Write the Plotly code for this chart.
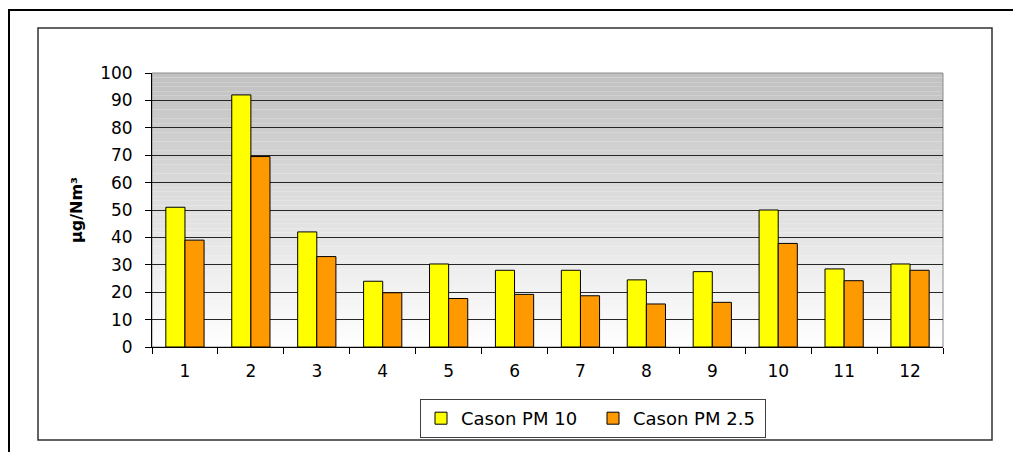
import plotly.graph_objects as go

# Monthly particulate concentrations (µg/Nm³)
months = ["1", "2", "3", "4", "5", "6", "7", "8", "9", "10", "11", "12"]
pm10 = [51, 92, 42, 24, 30.3, 28, 28, 24.5, 27.5, 50, 28.5, 30.3]
pm25 = [39, 69.5, 33, 19.8, 17.7, 19.2, 18.7, 15.7, 16.3, 37.8, 24.2, 28]
series_names = ["Cason PM 10", "Cason PM 2.5"]
y_ticks = [0, 10, 20, 30, 40, 50, 60, 70, 80, 90, 100]

W, H = 1013, 452
L, R, T, B = 152, 943, 73, 347  # plot area in pixels
FONT = "DejaVu Sans"


def px_x(p):
    return (p - L) / (R - L)


def px_y(p):
    return (B - p) / (B - T)


fig = go.Figure()
fig.add_trace(go.Bar(
    x=months, y=pm10, name=series_names[0],
    marker=dict(color="#FFFF00", line=dict(color="#000000", width=1)),
))
fig.add_trace(go.Bar(
    x=months, y=pm25, name=series_names[1],
    marker=dict(color="#FF9900", line=dict(color="#000000", width=1)),
))

shapes = []
# vertical grey-to-white gradient behind the plot area
n = 60
for i in range(n):
    t = (i + 0.5) / n
    c = int(round(255 - 63 * t))
    shapes.append(dict(
        type="rect", xref="paper", yref="paper", layer="below",
        x0=0, x1=1, y0=i / n, y1=(i + 1) / n,
        fillcolor=f"rgb({c},{c},{c})", line=dict(width=0),
    ))
# plot area frame
shapes.append(dict(type="rect", xref="paper", yref="paper", layer="below",
                   x0=0, x1=1, y0=0, y1=1,
                   line=dict(color="#8c8c8c", width=1)))
# chart frame
shapes.append(dict(type="rect", xref="paper", yref="paper", layer="above",
                   x0=px_x(38), x1=px_x(992), y0=px_y(440), y1=px_y(28),
                   line=dict(color="#303030", width=1.5)))
# outer border
shapes.append(dict(type="rect", xref="paper", yref="paper", layer="above",
                   x0=px_x(9), x1=px_x(1020), y0=px_y(470), y1=px_y(10),
                   line=dict(color="#000000", width=2)))

fig.update_layout(
    width=W, height=H,
    margin=dict(l=L, r=W - R, t=T, b=H - B),
    paper_bgcolor="#FFFFFF",
    plot_bgcolor="rgba(0,0,0,0)",
    barmode="group",
    bargap=0.42,
    bargroupgap=0,
    font=dict(family=FONT, size=17, color="#000000"),
    shapes=shapes,
    showlegend=True,
    legend=dict(
        orientation="h",
        x=px_x(420), xanchor="left",
        y=px_y(399), yanchor="top",
        bordercolor="#404040", borderwidth=1,
        bgcolor="#FFFFFF",
        font=dict(family=FONT, size=18, color="#000000"),
        itemwidth=30,
        entrywidth=127,
    ),
    xaxis=dict(
        type="category",
        showgrid=False,
        showline=True, linecolor="#000000", linewidth=1,
        ticks="outside", ticklen=6, tickcolor="#000000",
        tickson="boundaries",
        ticklabelstandoff=9,
        tickfont=dict(family=FONT, size=17),
    ),
    yaxis=dict(
        range=[0, 100],
        tickvals=y_ticks,
        showgrid=True, gridcolor="#262626", gridwidth=1,
        showline=True, linecolor="#000000", linewidth=1,
        ticks="outside", ticklen=6, tickcolor="#000000",
        ticklabelstandoff=9,
        zeroline=False,
        tickfont=dict(family=FONT, size=17),
        title=dict(text="<b>µg/Nm³</b>", font=dict(family=FONT, size=16), standoff=13),
    ),
)

fig.write_html("out.html")
